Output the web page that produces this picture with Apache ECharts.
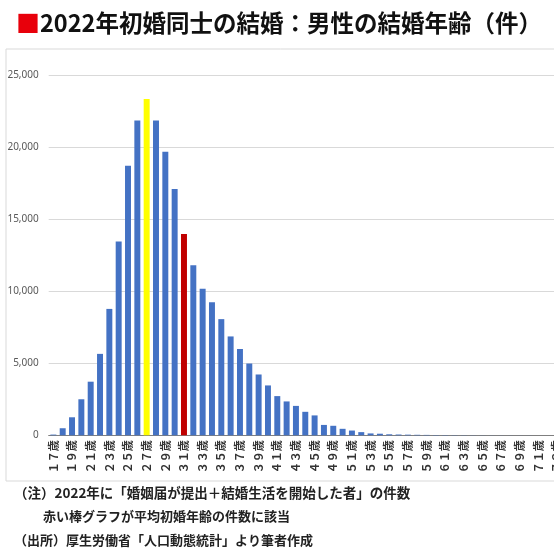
<!DOCTYPE html>
<html><head><meta charset="utf-8">
<script src="https://cdn.jsdelivr.net/npm/echarts@6/dist/echarts.min.js"></script>
<style>html,body{margin:0;padding:0;background:#fff}#c{width:554px;height:554px}</style>
</head><body><div id="c"></div>
<script>
const titleText = '2022年初婚同士の結婚：男性の結婚年齢（件）';
const ageLabels = ['１７歳','１８歳','１９歳','２０歳','２１歳','２２歳','２３歳','２４歳','２５歳','２６歳',
 '２７歳','２８歳','２９歳','３０歳','３１歳','３２歳','３３歳','３４歳','３５歳','３６歳',
 '３７歳','３８歳','３９歳','４０歳','４１歳','４２歳','４３歳','４４歳','４５歳','４７歳',
 '４９歳','５０歳','５１歳','５２歳','５３歳','５４歳','５５歳','５６歳','５７歳','５８歳',
 '５９歳','６０歳','６１歳','６２歳','６３歳','６４歳','６５歳','６６歳','６７歳','６８歳',
 '６９歳','７０歳','７１歳','７２歳','７３歳','７４歳','７５歳'];
const marriages = [50,490,1250,2500,3720,5650,8770,13450,18700,21850,
 23330,21850,19670,17090,13960,11800,10170,9240,8060,6860,
 5990,4980,4220,3460,2720,2350,2040,1630,1380,720,
 660,450,330,220,130,110,70,55,45,35,
 28,22,18,14,11,9,7,6,5,4,
 3,3,2,2,1,1,1];
const modeAge = '２７歳';
const meanAge = '３１歳';
const yTicks = [0,5000,10000,15000,20000,25000];
const notes = [
 '（注）2022年に「婚姻届が提出＋結婚生活を開始した者」の件数',
 '赤い棒グラフが平均初婚年齢の件数に該当',
 '（出所）厚生労働省「人口動態統計」より筆者作成'
];

const FONT = '"Noto Sans CJK JP","Noto Sans",sans-serif';
const barData = marriages.map((v,i)=>({
  value:v,
  itemStyle:{color: ageLabels[i]===modeAge ? '#ffff00' : ageLabels[i]===meanAge ? '#c00000' : '#4472c4'}
}));

const chart = echarts.init(document.getElementById('c'));
chart.setOption({
  animation:false,
  backgroundColor:'#fff',
  textStyle:{fontFamily:FONT},
  title:{
    left:11, top:6,
    text:'{sq|■}{t|'+titleText+'}',
    textStyle:{rich:{
      sq:{color:'#e8000b',fontSize:24,fontFamily:FONT},
      t:{color:'#111',fontSize:23.5,fontWeight:'bold',fontFamily:FONT}
    }}
  },
  graphic:[
    {type:'rect',z:-10,shape:{x:6,y:49,width:700,height:432},style:{fill:'none',stroke:'#d9d9d9',lineWidth:1}},
    {type:'text',left:14,top:486,style:{text:notes[0],font:'bold 13.5px '+FONT,fill:'#222'}},
    {type:'text',left:43,top:510,style:{text:notes[1],font:'bold 13px '+FONT,fill:'#222'}},
    {type:'text',left:14,top:534,style:{text:notes[2],font:'bold 13px '+FONT,fill:'#222'}}
  ],
  grid:{left:48.7,top:75,bottom:118.7,right:554-48.7-ageLabels.length*9.33,
        containLabel:false, outerBoundsMode:'none'},
  xAxis:{
    type:'category', data:ageLabels,
    axisLine:{lineStyle:{color:'#7f7f7f',width:1}},
    axisTick:{show:false},
    axisLabel:{rotate:90,interval:1,fontSize:11,fontWeight:'bold',color:'#333',margin:5,fontFamily:FONT}
  },
  yAxis:{
    type:'value', min:yTicks[0], max:yTicks[yTicks.length-1], interval:yTicks[1]-yTicks[0],
    axisLine:{show:false}, axisTick:{show:false},
    axisLabel:{fontSize:10,color:'#595959',margin:10,fontFamily:'"Noto Sans",sans-serif',
      formatter:v=>v.toLocaleString('en-US')},
    splitLine:{lineStyle:{color:'#d9d9d9',width:1}}
  },
  series:[{type:'bar',data:barData,barCategoryGap:'36%'}]
});
</script></body></html>
